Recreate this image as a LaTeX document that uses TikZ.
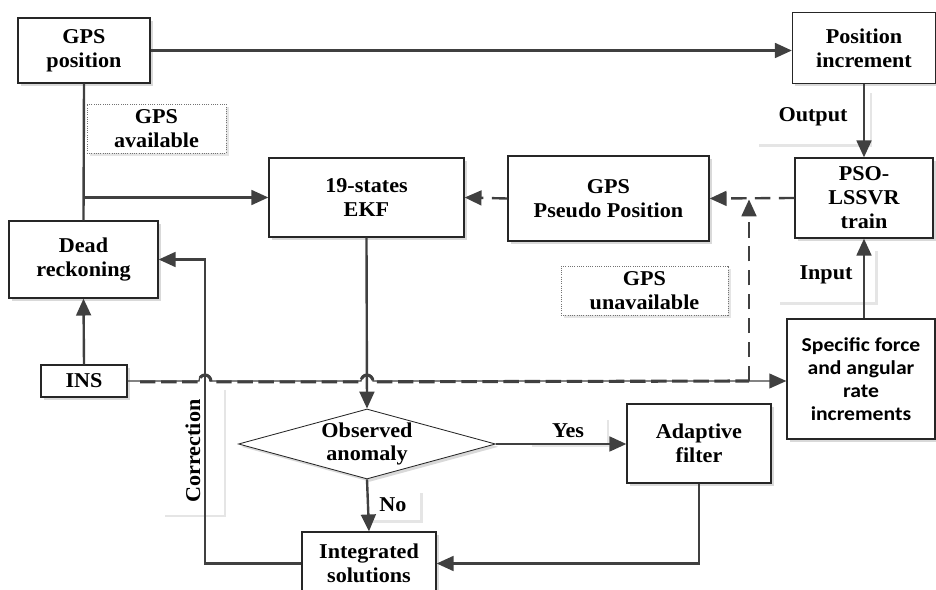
\documentclass[tikz,border=0pt]{standalone}
\usepackage{fontspec}
\setmainfont{Liberation Serif}[FakeStretch=1.05]
\newfontfamily\calib{Carlito}[FakeStretch=1.1]
\usetikzlibrary{shapes.geometric,arrows.meta,shadows}

\tikzset{
  boxshadow/.style={drop shadow={shadow xshift=2pt,shadow yshift=-2pt,fill=black!15,opacity=1}},
  blk/.style={draw=black!85,line width=0.9pt,fill=white,align=center,inner sep=0pt,
    font=\fontsize{15}{17}\selectfont\bfseries,boxshadow},
  lbl/.style={fill=white,align=center,inner sep=0pt,font=\fontsize{15}{17}\selectfont\bfseries,
    drop shadow={shadow xshift=2pt,shadow yshift=-2pt,fill=black!10,opacity=1}},
  note/.style={lbl,draw=black!55,densely dotted,line width=0.6pt},
  ln/.style={draw=black!75,line width=1.7pt},
  arr/.style={ln,-{Triangle[length=12pt,width=10.5pt]}},
  dsh/.style={arr,dash pattern=on 11pt off 6pt},
}

\begin{document}
\begin{tikzpicture}[x=0.025cm,y=-0.025cm]
\useasboundingbox (0,0) rectangle (936,590);

\node[lbl,minimum width=2.825cm,minimum height=1.35cm] (output) at (813,117) {Output};
\node[lbl,minimum width=2.45cm,minimum height=1.35cm] (input) at (826,275) {Input};
\node[lbl,minimum width=1.925cm,minimum height=0.675cm] (yes) at (568,431) {Yes};
\node[lbl,minimum width=1.35cm,minimum height=0.75cm] (no) at (393,505) {No};
\node[lbl,minimum width=1.525cm,minimum height=3.175cm] (corr) at (193,451) {\rotatebox{90}{Correction}};
\node[note,minimum width=3.475cm,minimum height=1.225cm] (avail) at (156.5,128.5) {GPS\\available};
\node[note,minimum width=4.175cm,minimum height=1.225cm] (unavail) at (644.5,290.5) {GPS\\unavailable};

\node[blk,minimum width=3.3cm,minimum height=1.625cm] (gpspos) at (84,50.5) {GPS\\position};
\node[blk,minimum width=3.575cm,minimum height=1.775cm] (posinc) at (864,48) {Position\\increment};
\node[blk,minimum width=4.875cm,minimum height=1.975cm] (ekf) at (366.5,197.5) {19-states\\EKF};
\node[blk,minimum width=5.025cm,minimum height=2.125cm] (pseudo) at (608.5,198.5) {GPS\\Pseudo Position};
\node[blk,minimum width=3.45cm,minimum height=2cm] (pso) at (864,198) {PSO-\\LSSVR\\train};
\node[blk,minimum width=3.725cm,minimum height=1.925cm] (dead) at (83.5,259.5) {Dead\\reckoning};
\node[blk,minimum width=2.15cm,minimum height=0.8cm] (ins) at (84,381) {INS};
\node[blk,minimum width=3.7cm,minimum height=3cm,font=\calib\fontsize{14}{16.5}\selectfont\bfseries] (sfar) at (861,379) {Specific force\\and angular\\rate\\increments};
\node[blk,shape=diamond,aspect=3.67,line width=0.6pt,minimum width=6.425cm,minimum height=1.75cm] (diam) at (367,444) {Observed\\anomaly};
\node[blk,minimum width=3.6cm,minimum height=1.975cm] (adapt) at (699,443.5) {Adaptive\\filter};
\node[blk,minimum width=3.35cm,minimum height=1.575cm] (integ) at (369,563.5) {Integrated\\solutions};

\coordinate (cx) at (205,0);
\coordinate (split) at (749,0);

\draw[arr] (gpspos.east) -- (gpspos.east -| posinc.west);
\draw[ln] (gpspos.south) -- (dead.north);
\draw[arr] (gpspos.south |- ekf.west) -- (ekf.west);
\draw[arr] (posinc.south) -- (pso.north);
\draw[arr] (sfar.north -| pso.south) -- (pso.south);
\draw[dsh] (pso.west) -- (pseudo.east);
\draw[dsh] (pseudo.west) -- (ekf.east);
\draw[arr] (ins.north) -- (dead.south);
\draw[arr] (ekf.south) -- (diam.north);
\draw[arr] (diam.east) -- (diam.east -| adapt.west);
\draw[arr] (diam.south) -- (integ.north);
\draw[arr] (adapt.south) |- (integ.east);
\draw[arr] (integ.west) -| (cx |- dead.east) -- (dead.east);

\draw[draw=black!75,line width=0.9pt,-{Triangle[length=12pt,width=10.5pt]}] (ins.east) -- (199,381)
  .. controls (199,372) and (211,372) .. (211,381) -- (361,381)
  .. controls (361,372) and (373,372) .. (373,381) -- (ins.east -| sfar.west);
\draw[draw=black!75,line width=2.2pt,dash pattern=on 11pt off 4pt,yshift=-0.6pt] (140,381) -- (199,381)
  .. controls (199,372) and (211,372) .. (211,381) -- (361,381)
  .. controls (361,372) and (373,372) .. (373,381) -- (split |- ins.east);
\draw[dsh,shorten >=1pt] (split |- ins.east) -- (split |- pso.west);
\end{tikzpicture}
\end{document}
